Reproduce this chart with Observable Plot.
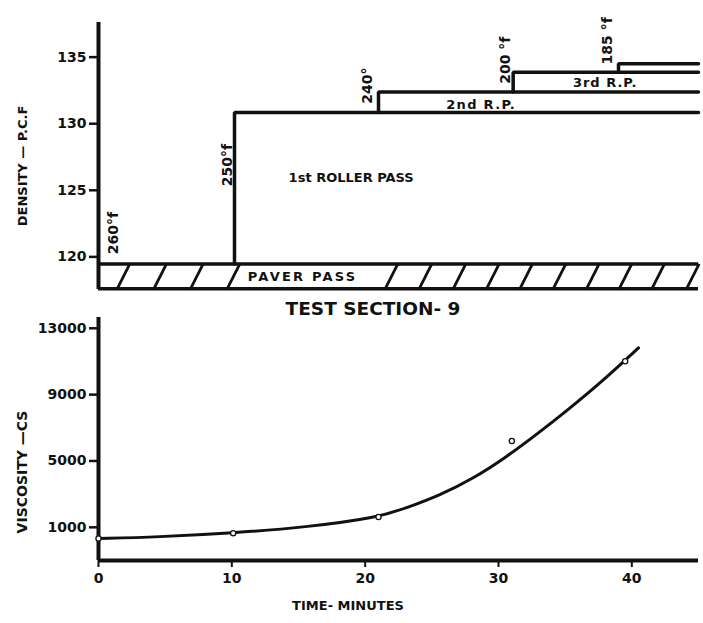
<!DOCTYPE html>
<html><head><meta charset="utf-8">
<script src="https://cdn.jsdelivr.net/npm/d3@7"></script>
<script src="https://cdn.jsdelivr.net/npm/@observablehq/plot@0.6"></script>
<style>
body{margin:0;background:#fff;}
#wrap{position:relative;width:703px;height:623px;overflow:hidden;background:#fff;font-family:"DejaVu Sans",sans-serif;color:#111;}
.panel{position:absolute;left:0;}
.lbl{position:absolute;white-space:nowrap;font-weight:bold;transform:translate(-50%,-50%);}
.rot{transform:translate(-50%,-50%) rotate(-90deg);}
</style>
</head><body><div id="wrap"></div>
<script>
// ---- data ----
const timeTicks = [0, 10, 20, 30, 40];
const densityTicks = [120, 125, 130, 135];
const viscosityTicks = [1000, 5000, 9000, 13000];
const timeDomain = [0, 45];
const densityDomain = [117.55, 137.6];
const viscosityDomain = [-1000, 13650];

// paver pass band (density range)
const paverTop = 119.47;
const paverBottom = 117.6;
const hatchTime = [1.4, 4.15, 6.9, 9.65, 21.5, 24.05, 26.6, 29.1, 31.6, 34.1, 36.6, 39.05, 41.5, 44.1];

// roller passes: start time (min) and density reached (pcf)
const passTime = [10.2, 21.0, 31.1, 39.0];
const passDensity = [130.85, 132.38, 133.87, 134.5];

// temperature annotations
const tempLabel = ["260°f", "250°f", "240°", "200 °f", "185 °f"];
const tempX = [1.1, 9.66, 20.2, 30.5, 38.2];
const tempY = [120.2, 125.3, 131.5, 133.0, 134.45];

// region annotations
const regionLabel = ["PAVER PASS", "1st ROLLER PASS", "2nd R.P.", "3rd R.P."];
const regionX = [15.3, 18.95, 28.7, 38.0];
const regionY = [118.5, 125.9, 131.45, 133.05];

// viscosity curve (smoothed line) and measured points
const curveTime = [0, 4.4, 10.1, 15.5, 21, 23.1, 25.6, 28.1, 30.6, 33.1, 35.1, 37.6, 40.5];
const curveVisc = [320, 415, 656, 1000, 1600, 2170, 2930, 3940, 5240, 6750, 8020, 9670, 11820];
const sampleTime = [0, 10.1, 21.0, 31.0, 39.5];
const sampleVisc = [330, 650, 1620, 6200, 11015];

// ---- build ----
const ink = "#111";
const wrap = document.getElementById("wrap");

const steps = [];
passTime.forEach((t, i) => {
  const prev = i === 0 ? paverTop : passDensity[i - 1];
  steps.push({t, d: prev, g: i}, {t, d: passDensity[i], g: i}, {t: timeDomain[1], d: passDensity[i], g: i});
});

const topChart = Plot.plot({
  width: 703, height: 300,
  marginLeft: 98, marginRight: 5, marginTop: 22, marginBottom: 11,
  x: {domain: timeDomain, axis: null},
  y: {domain: densityDomain, axis: null},
  style: {fontFamily: "DejaVu Sans", color: ink, background: "transparent", overflow: "visible"},
  marks: [
    Plot.axisY(densityTicks, {label: null, tickSize: 9, tickPadding: 3, fontSize: 14, fontWeight: "bold", strokeWidth: 2.5, stroke: ink, fill: ink}),
    Plot.ruleY([paverTop, paverBottom], {x1: timeDomain[0], x2: timeDomain[1], stroke: ink, strokeWidth: 3.5}),
    Plot.link(hatchTime, {x1: d => d, x2: d => d + 0.95, y1: paverBottom, y2: paverTop, stroke: ink, strokeWidth: 2.8}),
    Plot.line(steps, {x: "t", y: "d", z: "g", stroke: ink, strokeWidth: 3.5, strokeLinejoin: "miter", curve: "linear"}),
    Plot.ruleX([timeDomain[0]], {y1: densityDomain[0], y2: densityDomain[1], stroke: ink, strokeWidth: 4}),
    Plot.text(tempLabel, {x: (d, i) => tempX[i], y: (d, i) => tempY[i], rotate: -90, textAnchor: "start", fontSize: 14, fontWeight: "bold", fill: ink}),
    Plot.text(regionLabel, {x: (d, i) => regionX[i], y: (d, i) => regionY[i], fontSize: 13, fontWeight: "bold", fill: ink})
  ]
});
topChart.classList.add("panel");
topChart.style.top = "0px";
const spacing = {"PAVER PASS": "2.2px", "2nd R.P.": "1.3px", "3rd R.P.": "1px"};
topChart.querySelectorAll("text").forEach(t => {
  const s = spacing[t.textContent];
  if (s) t.style.letterSpacing = s;
});
wrap.appendChild(topChart);

const curve = curveTime.map((t, i) => ({t, v: curveVisc[i]}));
const samples = sampleTime.map((t, i) => ({t, v: sampleVisc[i]}));

const bottomChart = Plot.plot({
  width: 703, height: 323,
  marginLeft: 98, marginRight: 5, marginTop: 17, marginBottom: 63,
  x: {domain: timeDomain, axis: null},
  y: {domain: viscosityDomain, axis: null},
  style: {fontFamily: "DejaVu Sans", color: ink, background: "transparent", overflow: "visible"},
  marks: [
    Plot.axisY(viscosityTicks, {label: null, tickSize: 9, tickPadding: 3, fontSize: 14, fontWeight: "bold", strokeWidth: 2.5, stroke: ink, fill: ink, tickFormat: d => String(d)}),
    Plot.axisX(timeTicks, {label: null, tickSize: 7, tickPadding: 6, fontSize: 14, fontWeight: "bold", strokeWidth: 2, stroke: ink, fill: ink}),
    Plot.ruleY([viscosityDomain[0]], {x1: timeDomain[0], x2: timeDomain[1], stroke: ink, strokeWidth: 4}),
    Plot.ruleX([timeDomain[0]], {y1: viscosityDomain[0], y2: viscosityDomain[1], stroke: ink, strokeWidth: 4}),
    Plot.line(curve, {x: "t", y: "v", stroke: ink, strokeWidth: 3, curve: "basis"}),
    Plot.dot(samples, {x: "t", y: "v", r: 2.6, fill: "white", stroke: ink, strokeWidth: 1.3})
  ]
});
bottomChart.classList.add("panel");
bottomChart.style.top = "300px";
wrap.appendChild(bottomChart);

function addLabel(text, x, y, size, rot) {
  const d = document.createElement("div");
  d.className = "lbl" + (rot ? " rot" : "");
  d.textContent = text;
  d.style.left = x + "px";
  d.style.top = y + "px";
  d.style.fontSize = size + "px";
  wrap.appendChild(d);
}
addLabel("DENSITY — P.C.F", 22, 166, 13, true);
addLabel("TEST SECTION- 9", 373, 308, 18.5, false);
addLabel("VISCOSITY —CS", 22, 472, 14, true);
addLabel("TIME- MINUTES", 348, 605, 13, false);
</script>
</body></html>
